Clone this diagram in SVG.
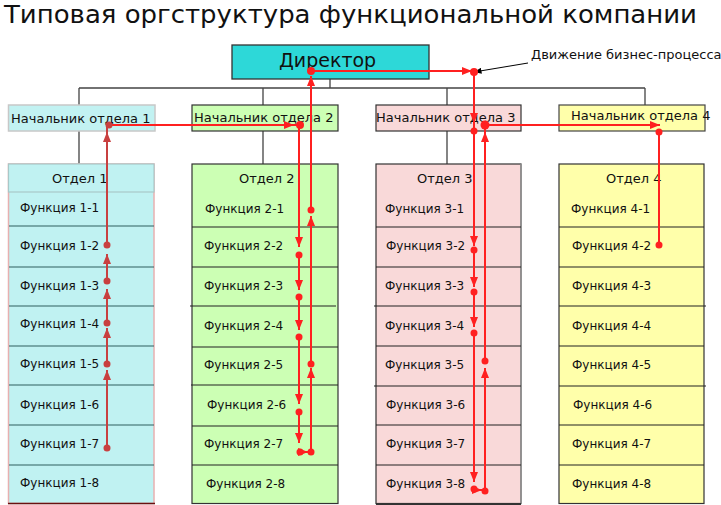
<svg xmlns="http://www.w3.org/2000/svg" width="721" height="505" viewBox="0 0 721 505">
<defs>
<style>
text{font-family:"DejaVu Sans","Liberation Sans",sans-serif;fill:#111}
.title{font-size:25px}
.dir{font-size:19px}
.chief{font-size:13px}
.hdr{font-size:13px}
.fn{font-size:12px}
.note{font-size:13px}
.conn{stroke:#444;stroke-width:1.3;fill:none}
.row1{stroke:#2f5f5f;stroke-width:1.2}
.row{stroke:#222;stroke-width:1.2}
.fl{stroke:#ff2020;stroke-width:2;fill:none}
.fl1{stroke:#c84040;stroke-width:2;fill:none}
.d{fill:#ff2020}
.d1{fill:#c84040}
</style>
<marker id="ar" viewBox="0 0 10 8" refX="10" refY="4" markerWidth="10" markerHeight="8" markerUnits="userSpaceOnUse" orient="auto"><path d="M0,0 L10,4 L0,8 z" fill="#ff2020"/></marker>
<marker id="ar1" viewBox="0 0 10 8" refX="10" refY="4" markerWidth="10" markerHeight="8" markerUnits="userSpaceOnUse" orient="auto"><path d="M0,0 L10,4 L0,8 z" fill="#c84040"/></marker>
<marker id="arb" viewBox="0 0 10 8" refX="10" refY="4" markerWidth="8" markerHeight="6" markerUnits="userSpaceOnUse" orient="auto"><path d="M0,0 L10,4 L0,8 z" fill="#000"/></marker>
</defs>
<rect width="721" height="505" fill="#fff"/>
<text class="title" x="4" y="23" textLength="693" lengthAdjust="spacingAndGlyphs">Типовая оргструктура функциональной компании</text>

<g id="connectors">
<path class="conn" d="M330,79 V88 M79,88 H645 M79,88 V105 M263,88 V105 M447,88 V105 M645,88 V105 M79,131 V164 M263,131 V164 M447,131 V164"/>
</g>

<g id="director">
<rect x="232" y="45" width="197" height="34" fill="#2dd8d8" stroke="#333" stroke-width="1.3"/>
<text class="dir" x="279" y="67">Директор</text>
</g>

<g id="chief1">
<rect x="8.5" y="105" width="146.5" height="26" fill="#c2f2f2" stroke="#c8c8c8" stroke-width="1.5"/>
<text class="chief" x="11" y="123">Начальник отдела 1</text>
</g>
<g id="chief2">
<rect x="192" y="105" width="146" height="26" fill="#ccffb4" stroke="#333" stroke-width="1.2"/>
<text class="chief" x="194" y="122">Начальник отдела 2</text>
</g>
<g id="chief3">
<rect x="376" y="105" width="145" height="26" fill="#f9d9d9" stroke="#333" stroke-width="1.2"/>
<text class="chief" x="376" y="122">Начальник отдела 3</text>
</g>
<g id="chief4">
<rect x="559" y="105" width="146" height="26" fill="#ffffaa" stroke="#444" stroke-width="1.2"/>
<text class="chief" x="571" y="120">Начальник отдела 4</text>
</g>

<g id="dept1">
<rect x="8.5" y="164" width="145.5" height="339.5" fill="#c0f2f2" stroke="#e8b0b0" stroke-width="1.5"/>
<rect x="8.5" y="164" width="145.5" height="28" fill="#c0f2f2" stroke="#a8c8c8" stroke-width="1.2"/>
<path class="row1" d="M9,226 H154 M9,267 H154 M9,306 H154 M9,346 H154 M9,385 H154 M9,425 H154 M9,465 H154"/>
<path d="M8,503.5 H155" stroke="#6a1010" stroke-width="1.5"/>
<text class="hdr" x="52" y="183">Отдел 1</text>
<text class="fn" x="20" y="212">Функция 1-1</text>
<text class="fn" x="20" y="250">Функция 1-2</text>
<text class="fn" x="20" y="290">Функция 1-3</text>
<text class="fn" x="20" y="328">Функция 1-4</text>
<text class="fn" x="20" y="368">Функция 1-5</text>
<text class="fn" x="20" y="409">Функция 1-6</text>
<text class="fn" x="20" y="448">Функция 1-7</text>
<text class="fn" x="20" y="487">Функция 1-8</text>
</g>

<g id="dept2">
<rect x="192" y="164" width="146" height="339.5" fill="#ccffb4" stroke="#333" stroke-width="1.2"/>
<path class="row" d="M192,227 H338 M192,267 H338 M190,306 H336 M192,347 H338 M191,385 H338 M192,426 H338 M192,465 H338"/>
<text class="hdr" x="239" y="183">Отдел 2</text>
<text class="fn" x="205" y="213">Функция 2-1</text>
<text class="fn" x="204" y="250">Функция 2-2</text>
<text class="fn" x="204" y="290">Функция 2-3</text>
<text class="fn" x="204" y="330">Функция 2-4</text>
<text class="fn" x="204" y="369">Функция 2-5</text>
<text class="fn" x="207" y="409">Функция 2-6</text>
<text class="fn" x="204" y="448">Функция 2-7</text>
<text class="fn" x="206" y="488">Функция 2-8</text>
</g>

<g id="dept3">
<rect x="376" y="164" width="145" height="339.5" fill="#f9d9d9" stroke="#333" stroke-width="1.2"/>
<path d="M521,164 V504" stroke="#999" stroke-width="1.5"/>
<path class="row" d="M376,227 H521 M376,267 H521 M374,306 H521 M376,346 H521 M374,386 H521 M376,425 H521 M376,465 H521"/>
<path d="M376,504 H521" stroke="#333" stroke-width="2"/>
<text class="hdr" x="417" y="183">Отдел 3</text>
<text class="fn" x="385" y="213">Функция 3-1</text>
<text class="fn" x="386" y="250">Функция 3-2</text>
<text class="fn" x="385" y="290">Функция 3-3</text>
<text class="fn" x="385" y="330">Функция 3-4</text>
<text class="fn" x="385" y="369">Функция 3-5</text>
<text class="fn" x="386" y="409">Функция 3-6</text>
<text class="fn" x="386" y="448">Функция 3-7</text>
<text class="fn" x="386" y="488">Функция 3-8</text>
</g>

<g id="dept4">
<rect x="559" y="164" width="145" height="339.5" fill="#ffffaa" stroke="#333" stroke-width="1.2"/>
<path class="row" d="M559,227 H704 M559,267 H704 M559,306 H706 M559,346 H704 M559,386 H706 M559,425 H704 M559,465 H704"/>
<text class="hdr" x="606" y="183">Отдел 4</text>
<text class="fn" x="571" y="213">Функция 4-1</text>
<text class="fn" x="572" y="250">Функция 4-2</text>
<text class="fn" x="572" y="290">Функция 4-3</text>
<text class="fn" x="572" y="330">Функция 4-4</text>
<text class="fn" x="572" y="369">Функция 4-5</text>
<text class="fn" x="573" y="409">Функция 4-6</text>
<text class="fn" x="572" y="448">Функция 4-7</text>
<text class="fn" x="572" y="488">Функция 4-8</text>
</g>

<g id="note">
<text class="note" x="531" y="59">Движение бизнес-процесса</text>
<path d="M528,63 L474,72" stroke="#000" stroke-width="1" fill="none" marker-end="url(#arb)"/>
</g>

<g id="process-flow">
<path class="fl1" d="M107,448 V370" marker-end="url(#ar1)"/>
<path class="fl1" d="M107,364 V328" marker-end="url(#ar1)"/>
<path class="fl1" d="M107,323 V289" marker-end="url(#ar1)"/>
<path class="fl1" d="M107,281 V254" marker-end="url(#ar1)"/>
<path class="fl1" d="M107,245 V132" marker-end="url(#ar1)"/>
<path class="fl1" d="M107,132 V126"/>
<circle class="d1" cx="107" cy="448" r="3.5"/>
<circle class="d1" cx="107" cy="364" r="3.5"/>
<circle class="d1" cx="107" cy="323" r="3.5"/>
<circle class="d1" cx="107" cy="281" r="3.5"/>
<circle class="d1" cx="107" cy="245" r="3.5"/>
<path class="fl" d="M109,125 H294" marker-end="url(#ar)"/>
<path class="fl" d="M294,125 H300"/>
<circle class="d1" cx="109" cy="125" r="3.5"/>

<path class="fl" d="M299,125 V247" marker-end="url(#ar)"/>
<path class="fl" d="M299,255 V290" marker-end="url(#ar)"/>
<path class="fl" d="M299,297 V330" marker-end="url(#ar)"/>
<path class="fl" d="M299,337 V404" marker-end="url(#ar)"/>
<path class="fl" d="M299,412 V443" marker-end="url(#ar)"/>
<path class="fl" d="M299,452 H308" marker-end="url(#ar)"/>
<path class="fl" d="M311,452 V368" marker-end="url(#ar)"/>
<path class="fl" d="M311,364 V216" marker-end="url(#ar)"/>
<path class="fl" d="M311,210 V76" marker-end="url(#ar)"/>
<path class="fl" d="M311,71 H472" marker-end="url(#ar)"/>
<circle class="d" cx="300" cy="125" r="4"/>
<circle class="d" cx="299" cy="255" r="3.5"/>
<circle class="d" cx="299" cy="297" r="3.5"/>
<circle class="d" cx="299" cy="337" r="3.5"/>
<circle class="d" cx="299" cy="412" r="3.5"/>
<circle class="d" cx="300" cy="452" r="3.5"/>
<circle class="d" cx="311" cy="452" r="3.5"/>
<circle class="d" cx="311" cy="364" r="3.5"/>
<circle class="d" cx="311" cy="210" r="3.5"/>
<circle class="d" cx="311" cy="71" r="4"/>

<path class="fl" d="M474,72 V123" marker-end="url(#ar)"/>
<path class="fl" d="M474,123 V246" marker-end="url(#ar)"/>
<path class="fl" d="M474,249 V287" marker-end="url(#ar)"/>
<path class="fl" d="M474,292 V327" marker-end="url(#ar)"/>
<path class="fl" d="M474,333 V482" marker-end="url(#ar)"/>
<path class="fl" d="M474,490 H482" marker-end="url(#ar)"/>
<path class="fl" d="M485,491 V368" marker-end="url(#ar)"/>
<path class="fl" d="M485,361 V132" marker-end="url(#ar)"/>
<path class="fl" d="M485,132 V126"/>
<path class="fl" d="M485,125 H660" marker-end="url(#ar)"/>
<path class="fl" d="M659,132 V245"/>
<circle class="d" cx="474" cy="72" r="4"/>
<circle class="d" cx="474" cy="131" r="3.5"/>
<circle class="d" cx="474" cy="250" r="3.5"/>
<circle class="d" cx="474" cy="292" r="3.5"/>
<circle class="d" cx="474" cy="333" r="3.5"/>
<circle class="d" cx="474" cy="489" r="3.5"/>
<circle class="d" cx="485" cy="491" r="3.5"/>
<circle class="d" cx="485" cy="361" r="3.5"/>
<circle class="d" cx="485" cy="125" r="4.5"/>
<circle class="d" cx="659" cy="132" r="3.5"/>
<circle class="d" cx="659" cy="245" r="3.5"/>
</g>
</svg>
